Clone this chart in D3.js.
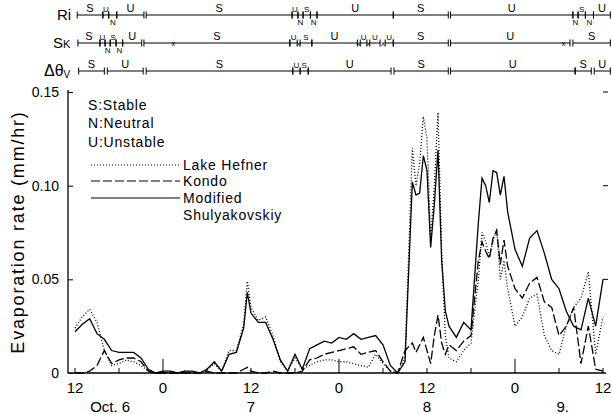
<!DOCTYPE html>
<html lang="en">
<head>
<meta charset="UTF-8">
<title>Evaporation rate</title>
<style>
  body { margin: 0; background: #fff; }
  svg { display: block; font-family: "Liberation Sans", "DejaVu Sans", sans-serif; }
  .axis path, .axis line { stroke: #000; }
</style>
</head>
<body>
<svg width="612" height="414"></svg>
<script src="https://d3js.org/d3.v7.min.js"></script>
<script>
// time in hours from Oct. 6, 12:00
const hours = [0,1,2,3,4,5,6,7,8,9,10,11,12,13,14,15,16,17,18,19,20,21,22,23,23.5,24,25,26,27,28,29,30,31,32,33,34,35,36,37,38,39,40,41,42,43,44,45,46,46.5,47,47.5,48,48.5,49,49.5,50,50.5,51,52,53,54,55,55.5,56,56.5,57,57.5,58,58.5,59,60,61,62,63,64,65,66,67,68,69,70,71,72];
const shul   = [0.022,0.026,0.029,0.021,0.018,0.012,0.011,0.011,0.011,0.008,0.002,0,0.001,0.001,0,0.001,0.001,0,0.002,0.006,0.001,0.010,0.011,0.024,0.043,0.032,0.027,0.027,0.018,0.007,0.001,0.010,0.002,0.013,0.015,0.017,0.016,0.019,0.018,0.021,0.018,0.019,0.020,0.015,0.004,0,0.006,0.102,0.095,0.096,0.116,0.108,0.067,0.090,0.119,0.060,0.033,0.025,0.019,0.027,0.023,0.080,0.104,0.100,0.091,0.108,0.107,0.095,0.105,0.086,0.066,0.057,0.072,0.076,0.064,0.050,0.045,0.033,0.025,0.023,0.040,0.025,0.050];
const kondo  = [0,0,0.001,0.004,0.012,0.005,0.007,0.008,0.008,0.006,0.001,0,0,0,0,0,0,0,0.001,0,0,0,0,0.002,0.003,0.001,0,0,0.001,0,0,0,0.001,0.007,0.008,0.010,0.011,0.012,0.013,0.014,0.010,0.011,0.012,0.006,0.001,0,0.012,0.016,0.011,0.015,0.019,0.012,0.005,0.020,0.031,0.016,0.010,0.015,0.012,0.017,0.020,0.060,0.070,0.065,0.061,0.072,0.076,0.058,0.071,0.057,0.045,0.040,0.048,0.051,0.038,0.035,0.020,0.025,0.035,0.005,0.025,0.002,0.001];
const hefner = [0.024,0.030,0.034,0.027,0.012,0.004,0.005,0.007,0.006,0.004,0.001,0,0,0,0,0.001,0,0,0.002,0.005,0.001,0.012,0.012,0.026,0.049,0.035,0.028,0.030,0.020,0.006,0.001,0.008,0.002,0.004,0.006,0.007,0.007,0.006,0.006,0.005,0.004,0.003,0.010,0.005,0.001,0,0.008,0.120,0.100,0.112,0.137,0.125,0.072,0.100,0.139,0.065,0.020,0.008,0.006,0.012,0.016,0.050,0.075,0.070,0.062,0.070,0.077,0.050,0.060,0.045,0.025,0.030,0.040,0.042,0.020,0.012,0.010,0.025,0.035,0.040,0.054,0.010,0.030];

const xTicks = [0,12,24,36,48,60,72];
const xTickLabels = ["12","0","12","0","12","0","12"];
const dayLabels = [["Oct. 6",4.8],["7",24],["8",48],["9.",66.5]];
const yTicks = [0,0.05,0.10,0.15];

// stability classes: [start hour, end hour, class]
const riSegs = [[0.3,3.8,"S"],[3.8,4.6,"U"],[4.6,5.7,"N"],[5.7,9.4,"U"],[9.7,29.6,"S"],[29.6,30.4,"U"],[30.4,31.1,"N"],[31.1,32.1,"S"],[32.1,33.0,"N"],[33.0,43.4,"U"],[43.4,50.9,"S"],[51.2,67.9,"U"],[67.9,68.6,"N"],[68.6,69.6,"S"],[69.6,70.7,"N"],[70.7,73.0,"U"]];
const skSegs = [[0.4,3.4,"S"],[3.4,4.1,"U"],[4.1,4.8,"N"],[4.8,5.6,"S"],[5.6,6.5,"N"],[6.5,9.1,"U"],[9.4,29.3,"S"],[29.3,30.3,"U"],[30.7,32.3,"S"],[32.3,38.5,"U"],[38.9,39.8,"U"],[40.2,41.6,"U"],[42.3,43.4,"U"],[43.4,50.9,"S"],[51.2,67.5,"U"],[67.9,73.0,"S"]];
const skMissing = [13.4,30.5,38.7,40.0,42.0,66.6];
const dtSegs = [[0.5,4.0,"S"],[4.4,9.3,"U"],[9.7,29.7,"S"],[29.7,30.7,"U"],[30.7,31.8,"S"],[31.8,43.1,"U"],[43.5,50.9,"S"],[51.2,68.2,"U"],[68.2,70.4,"S"],[70.8,73.0,"U"]];

const svg = d3.select("svg");
const x = d3.scaleLinear().domain([0,72]).range([75,603]);
const y = d3.scaleLinear().domain([0,0.15]).range([373,92]);

// axes
svg.append("line").attr("x1",68).attr("x2",68).attr("y1",90).attr("y2",373).attr("stroke","#000").attr("stroke-width",1.3);
svg.append("line").attr("x1",68).attr("x2",606).attr("y1",373).attr("y2",373).attr("stroke","#000").attr("stroke-width",1.3);

const yAx = svg.append("g").attr("class","axis").attr("transform","translate(68,0)")
  .call(d3.axisLeft(y).tickValues(yTicks).tickSizeInner(-5).tickSizeOuter(0).tickPadding(9)
    .tickFormat(d => d === 0 ? "0" : d3.format(".2f")(d)));
yAx.select(".domain").remove();
yAx.selectAll("text").attr("font-size",14).attr("font-family","Liberation Sans, sans-serif");
svg.selectAll(".rtick").data(yTicks.filter(d => d > 0)).enter().append("line")
  .attr("x1",603).attr("x2",608).attr("y1",d => y(d)).attr("y2",d => y(d)).attr("stroke","#000");

// x ticks every 6 h, midnight ticks longer
const sixH = d3.range(0,73,6);
svg.selectAll(".xt").data(sixH).enter().append("line")
  .attr("x1",d => x(d)).attr("x2",d => x(d))
  .attr("y1",373).attr("y2",d => (d % 24 === 12) ? 359 : 368)
  .attr("stroke","#000").attr("stroke-width",1);
svg.selectAll(".xl").data(xTicks).enter().append("text")
  .attr("x",d => x(d)).attr("y",393).attr("text-anchor","middle").attr("font-size",15)
  .text((d,i) => xTickLabels[i]);
svg.selectAll(".dl").data(dayLabels).enter().append("text")
  .attr("x",d => x(d[1])).attr("y",412).attr("text-anchor","middle").attr("font-size",15)
  .text(d => d[0]);

svg.append("text").attr("transform","translate(24,232) rotate(-90)")
  .attr("text-anchor","middle").attr("font-size",18).attr("letter-spacing",1.8)
  .text("Evaporation rate (mm/hr)");

// series
const line = vals => d3.line().x((d,i) => x(hours[i])).y(d => y(d))(vals);
svg.append("path").attr("d",line(hefner)).attr("fill","none").attr("stroke","#000")
  .attr("stroke-width",1.3).attr("stroke-dasharray","1,2");
svg.append("path").attr("d",line(kondo)).attr("fill","none").attr("stroke","#000")
  .attr("stroke-width",1.3).attr("stroke-dasharray","9,3");
svg.append("path").attr("d",line(shul)).attr("fill","none").attr("stroke","#000")
  .attr("stroke-width",1.3);

// legend
const leg = svg.append("g").attr("font-size",14).attr("letter-spacing",0.8);
[["S:Stable",110],["N:Neutral",128],["U:Unstable",147]].forEach(d =>
  leg.append("text").attr("x",88).attr("y",d[1]).text(d[0]));
[["Lake Hefner",170,"1,2"],["Kondo",186,"9,3"],["Modified",203,null]].forEach(d => {
  leg.append("line").attr("x1",91).attr("x2",180).attr("y1",d[1]-5).attr("y2",d[1]-5)
    .attr("stroke","#000").attr("stroke-width",1.2).attr("stroke-dasharray",d[2]);
  leg.append("text").attr("x",183).attr("y",d[1]).text(d[0]);
});
leg.append("text").attr("x",183).attr("y",220).text("Shulyakovskiy");

// stability rows
function row(segs, yy) {
  const g = svg.append("g");
  segs.forEach(s => {
    const x0 = x(s[0]), x1 = x(s[1]);
    g.append("line").attr("x1",x0).attr("x2",x1).attr("y1",yy).attr("y2",yy).attr("stroke","#000").attr("stroke-width",1);
    [x0,x1].forEach(xx => g.append("line").attr("x1",xx).attr("x2",xx).attr("y1",yy-3.5).attr("y2",yy+3.5).attr("stroke","#000"));
    g.append("text").attr("x",(x0+x1)/2).attr("y",s[2] === "N" ? yy+10 : yy-3)
      .attr("text-anchor","middle").attr("font-size",s[1]-s[0] < 2 ? 8 : 11).text(s[2]);
  });
  return g;
}
row(riSegs,15);
const skRow = row(skSegs,43);
skMissing.forEach(h => skRow.append("text").attr("x",x(h)).attr("y",46).attr("text-anchor","middle").attr("font-size",8).text("x"));
row(dtSegs,71);

svg.append("text").attr("x",57).attr("y",20).attr("font-size",15).text("Ri");
const sk = svg.append("text").attr("x",53).attr("y",48).attr("font-size",15);
sk.append("tspan").text("S");
sk.append("tspan").attr("font-size",11).text("K");
const dt = svg.append("text").attr("x",44).attr("y",76).attr("font-size",16);
dt.append("tspan").text("Δθ");
dt.append("tspan").attr("font-size",10).attr("dy",2).text("V");
</script>
</body>
</html>
